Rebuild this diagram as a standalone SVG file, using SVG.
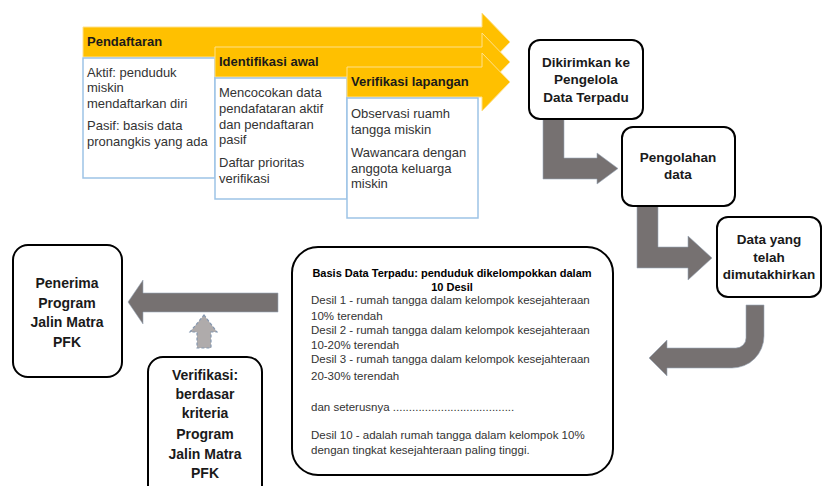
<svg xmlns="http://www.w3.org/2000/svg" width="823" height="486" viewBox="0 0 823 486">
<style>
text{font-family:"Liberation Sans",Arial,sans-serif;fill:#1a1a1a}
.chev{fill:#FFC000;stroke:#FFE08A;stroke-width:1}
.lbl{font-weight:bold;font-size:13px}
.box{fill:#fff;stroke:#9DC3E6;stroke-width:1.5}
.bt{font-size:13px;fill:#333}
.node{fill:#fff;stroke:#000;stroke-width:2}
.nt{font-weight:bold;font-size:13.5px;text-anchor:middle}
.nl{font-weight:bold;font-size:14px;text-anchor:middle}
.gray{fill:#767171;stroke:#9aa8b8;stroke-width:0.6}
.dt{font-size:11.5px;fill:#333}
.tt{font-weight:bold;font-size:11px;text-anchor:middle;fill:#000}
</style>

<g id="pendaftaran">
<path class="chev" d="M83,27 H482 V13 L510,42 L482,71 V57 H83 Z"/>
<text class="lbl" x="87" y="46">Pendaftaran</text>
<rect class="box" x="83" y="58" width="132" height="120"/>
<text class="bt" x="87" y="77">Aktif: penduduk</text>
<text class="bt" x="87" y="92">miskin</text>
<text class="bt" x="87" y="108">mendaftarkan diri</text>
<text class="bt" x="87" y="130">Pasif: basis data</text>
<text class="bt" x="87" y="146">pronangkis yang ada</text>
</g>

<g id="identifikasi">
<path class="chev" d="M215,47 H482 V33 L510,62 L482,91 V77 H215 Z"/>
<text class="lbl" x="219" y="66">Identifikasi awal</text>
<rect class="box" x="215" y="78" width="132" height="121"/>
<text class="bt" x="219" y="97">Mencocokan data</text>
<text class="bt" x="219" y="113">pendafataran aktif</text>
<text class="bt" x="219" y="129">dan pendaftaran</text>
<text class="bt" x="219" y="144">pasif</text>
<text class="bt" x="219" y="167">Daftar prioritas</text>
<text class="bt" x="219" y="183">verifikasi</text>
</g>

<g id="verifikasi-lapangan">
<path class="chev" d="M347,67 H482 V53 L510,82 L482,111 V97 H347 Z"/>
<text class="lbl" x="351" y="86">Verifikasi lapangan</text>
<rect class="box" x="347" y="98" width="131" height="120"/>
<text class="bt" x="351" y="118">Observasi ruamh</text>
<text class="bt" x="351" y="134">tangga miskin</text>
<text class="bt" x="351" y="157">Wawancara dengan</text>
<text class="bt" x="351" y="173">anggota keluarga</text>
<text class="bt" x="351" y="188">miskin</text>
</g>

<g id="connectors">
<path class="gray" d="M543,119 H564 V158 H597 V153 L618,168.5 L597,184 V179 H543 Z"/>
<path class="gray" d="M637,206 H658 V247 H688 V236 L712,258 L688,280 V268 H637 Z"/>
<path class="gray" d="M746,305 H764 V336 A32,32 0 0 1 732,368 H667 V376 L649,358 L667,340 V348 H736 A10,10 0 0 0 746,338 Z"/>
<path class="gray" d="M278,293 V312 H143 V324 L128,302 L143,280 V293 Z"/>
<path d="M204,315 L217,332 H211 V348 H197 V332 H190 Z" fill="#AFABAB" stroke="#8497B0" stroke-width="1.2" stroke-dasharray="3,2"/>
</g>

<g id="dikirimkan">
<rect class="node" x="529" y="40" width="114" height="79" rx="11"/>
<text class="nt" x="586" y="67">Dikirimkan ke</text>
<text class="nt" x="586" y="84">Pengelola</text>
<text class="nt" x="586" y="102">Data Terpadu</text>
</g>

<g id="pengolahan">
<rect class="node" x="622" y="127" width="113" height="79" rx="11"/>
<text class="nt" x="678" y="162">Pengolahan</text>
<text class="nt" x="678" y="179">data</text>
</g>

<g id="data-mutakhir">
<rect class="node" x="717" y="217" width="104" height="80" rx="11"/>
<text class="nt" x="769" y="244">Data yang</text>
<text class="nt" x="769" y="262">telah</text>
<text class="nt" x="769" y="279">dimutakhirkan</text>
</g>

<g id="basis-data">
<rect class="node" x="292" y="247" width="321" height="228" rx="26"/>
<text class="tt" x="452" y="277">Basis Data Terpadu: penduduk dikelompokkan dalam</text>
<text class="tt" x="452" y="291">10 Desil</text>
<text class="dt" x="311" y="304">Desil 1 - rumah tangga dalam kelompok kesejahteraan</text>
<text class="dt" x="311" y="320">10% terendah</text>
<text class="dt" x="311" y="334">Desil 2 - rumah tangga dalam kelompok kesejahteraan</text>
<text class="dt" x="311" y="349">10-20% terendah</text>
<text class="dt" x="311" y="363">Desil 3 - rumah tangga dalam kelompok kesejahteraan</text>
<text class="dt" x="311" y="380">20-30% terendah</text>
<text class="dt" x="311" y="411">dan seterusnya ......................................</text>
<text class="dt" x="311" y="439">Desil 10 - adalah rumah tangga dalam kelompok 10%</text>
<text class="dt" x="311" y="454">dengan tingkat kesejahteraan paling tinggi.</text>
</g>

<g id="penerima">
<rect class="node" x="13" y="245" width="109" height="132" rx="15"/>
<text class="nl" x="67" y="288">Penerima</text>
<text class="nl" x="67" y="308">Program</text>
<text class="nl" x="67" y="327">Jalin Matra</text>
<text class="nl" x="67" y="347">PFK</text>
</g>

<g id="verifikasi-kriteria">
<rect class="node" x="148" y="357" width="114" height="145" rx="15"/>
<text class="nl" x="205" y="380">Verifikasi:</text>
<text class="nl" x="205" y="399">berdasar</text>
<text class="nl" x="205" y="418">kriteria</text>
<text class="nl" x="205" y="439">Program</text>
<text class="nl" x="205" y="459">Jalin Matra</text>
<text class="nl" x="205" y="478">PFK</text>
</g>
</svg>
